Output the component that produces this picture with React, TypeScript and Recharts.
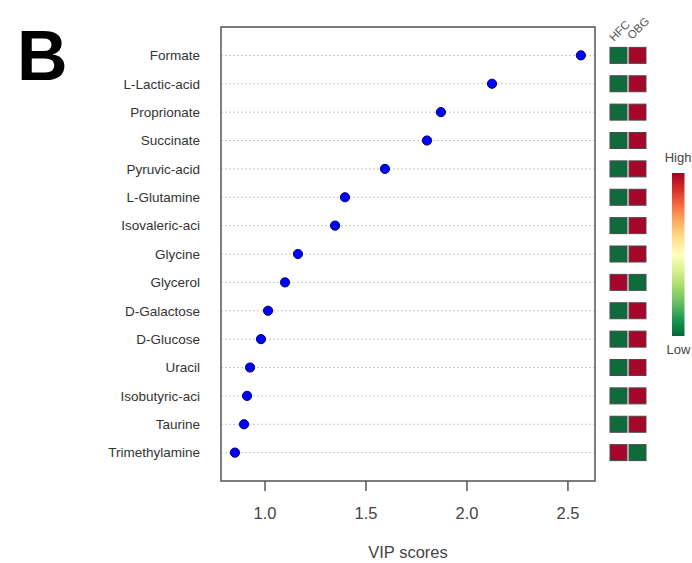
import React from 'react';
import { ScatterChart, Scatter, XAxis, YAxis, CartesianGrid, ReferenceArea } from 'recharts';

const metabolites = [
  'Formate', 'L-Lactic-acid', 'Proprionate', 'Succinate', 'Pyruvic-acid',
  'L-Glutamine', 'Isovaleric-aci', 'Glycine', 'Glycerol', 'D-Galactose',
  'D-Glucose', 'Uracil', 'Isobutyric-aci', 'Taurine', 'Trimethylamine',
];
const vipScores = [2.564, 2.124, 1.871, 1.802, 1.594, 1.396, 1.347, 1.163, 1.099, 1.015, 0.98, 0.926, 0.911, 0.896, 0.851];
const hfcLevel = ['low', 'low', 'low', 'low', 'low', 'low', 'low', 'low', 'high', 'low', 'low', 'low', 'low', 'low', 'high'];
const obgLevel = ['high', 'high', 'high', 'high', 'high', 'high', 'high', 'high', 'low', 'high', 'high', 'high', 'high', 'high', 'low'];
const groupNames = ['HFC', 'OBG'];
const xTicks = [1.0, 1.5, 2.0, 2.5];
const xDomain: [number, number] = [0.782, 2.634];

const rowIndex = metabolites.map((_, i) => i + 1);
const points = metabolites.map((name, i) => ({ name, vip: vipScores[i], row: i + 1 }));
const heatRows = metabolites.map((name, i) => ({ name, vip: xDomain[1], row: i + 1, hfc: hfcLevel[i], obg: obgLevel[i] }));

const HIGH = '#a6062c';
const LOW = '#0f6b3b';
const FONT = '"Liberation Sans", Arial, sans-serif';

const Dot = (props: any) => (
  <circle cx={props.cx} cy={props.cy} r={4.6} fill="#0000ff" stroke="#00006e" strokeWidth={1} />
);

const HeatCells = (props: any) => {
  const { cx, cy, payload } = props;
  return (
    <g>
      <rect x={cx + 15} y={cy - 8} width={17} height={16} fill={payload.hfc === 'high' ? HIGH : LOW} stroke="#4a4a4a" strokeWidth={1} />
      <rect x={cx + 34} y={cy - 8} width={17} height={16} fill={payload.obg === 'high' ? HIGH : LOW} stroke="#4a4a4a" strokeWidth={1} />
    </g>
  );
};

export default function App() {
  return (
    <div style={{ position: 'absolute', left: 0, top: 0, width: 692, height: 563, background: '#fff', fontFamily: FONT }}>
      <ScatterChart width={692} height={563} margin={{ top: 27, right: 97, bottom: 0, left: 0 }} style={{ fontFamily: FONT }}>
        <CartesianGrid vertical={false} stroke="#c8c8c8" strokeDasharray="2 2" />
        <XAxis
          type="number"
          dataKey="vip"
          domain={xDomain}
          ticks={xTicks}
          tickFormatter={(v: number) => v.toFixed(1)}
          height={82}
          axisLine={false}
          tickSize={10}
          tickMargin={16}
          tickLine={{ stroke: '#555', strokeWidth: 1.5 }}
          tick={{ fill: '#444', fontSize: 16.5 }}
          label={{ value: 'VIP scores', position: 'insideBottom', offset: 5, fill: '#444', fontSize: 16.5 }}
          allowDataOverflow={false}
        />
        <YAxis
          type="number"
          dataKey="row"
          domain={[0, 16]}
          reversed
          ticks={rowIndex}
          interval={0}
          tickFormatter={(v: number) => metabolites[v - 1] ?? ''}
          width={221}
          axisLine={false}
          tickLine={false}
          tickSize={0}
          tickMargin={21}
          tick={{ fill: '#333', fontSize: 13.5 }}
        />
        <ReferenceArea x1={xDomain[0]} x2={xDomain[1]} y1={0} y2={16} fill="none" stroke="#555" strokeWidth={1.5} />
        <Scatter data={heatRows} shape={HeatCells} isAnimationActive={false} />
        <Scatter data={points} shape={Dot} isAnimationActive={false} />
      </ScatterChart>
      <svg width={692} height={563} style={{ position: 'absolute', left: 0, top: 0, pointerEvents: 'none' }}>
        <defs>
          <linearGradient id="hl" x1="0" y1="0" x2="0" y2="1">
            <stop offset="0" stopColor="#a50026" />
            <stop offset="0.1" stopColor="#d73027" />
            <stop offset="0.2" stopColor="#f46d43" />
            <stop offset="0.3" stopColor="#fdae61" />
            <stop offset="0.4" stopColor="#fee08b" />
            <stop offset="0.5" stopColor="#ffffbf" />
            <stop offset="0.6" stopColor="#d9ef8b" />
            <stop offset="0.7" stopColor="#a6d96a" />
            <stop offset="0.8" stopColor="#66bd63" />
            <stop offset="0.9" stopColor="#1a9850" />
            <stop offset="1" stopColor="#006837" />
          </linearGradient>
        </defs>
        <text x={17} y={80} fontSize={70} fontWeight="bold" fontFamily={FONT} fill="#000">B</text>
        <text x={614} y={42} fontSize={11.5} fontFamily={FONT} fill="#555" transform="rotate(-45 614 42)">{groupNames[0]}</text>
        <text x={632} y={40} fontSize={11.5} fontFamily={FONT} fill="#555" transform="rotate(-45 632 40)">{groupNames[1]}</text>
        <rect x={672} y={173} width={12.5} height={163} fill="url(#hl)" />
        <text x={678} y={162} fontSize={13} textAnchor="middle" fontFamily={FONT} fill="#444">High</text>
        <text x={678.5} y={354} fontSize={13} textAnchor="middle" fontFamily={FONT} fill="#444">Low</text>
      </svg>
    </div>
  );
}
